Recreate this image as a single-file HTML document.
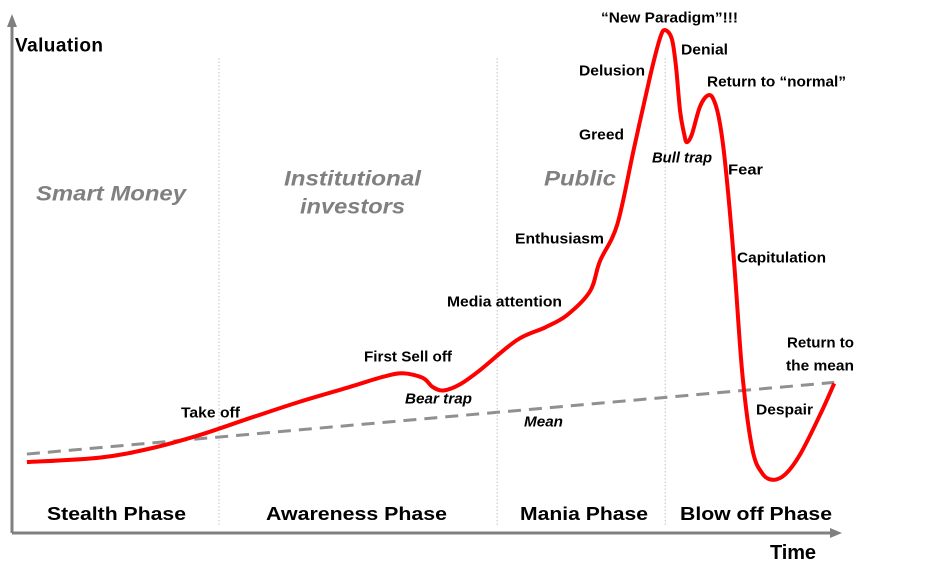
<!DOCTYPE html>
<html><head><meta charset="utf-8"><style>
html,body{margin:0;padding:0;background:#fff;}
svg{display:block;}
text{font-family:"Liberation Sans",Arial,sans-serif;dominant-baseline:central;}
.ann{font-size:15px;font-weight:bold;fill:#000;}
.ph{font-size:18px;font-weight:bold;fill:#000;}
.grp{font-size:21px;font-weight:bold;font-style:italic;fill:#808080;}
</style></head><body>
<svg id="chart" width="934" height="586" viewBox="0 0 934 586">
<g id="dividers"></g>
<line x1="12" y1="533" x2="12" y2="24" stroke="#808080" stroke-width="3"/>
<polygon points="12,14 7,27 17,27" fill="#808080"/>
<line x1="12" y1="533" x2="832" y2="533" stroke="#808080" stroke-width="3"/>
<polygon points="842,533 830,528 830,538" fill="#808080"/>
<text x="15" y="46" font-size="19" font-weight="bold" textLength="88">Valuation</text>
<text x="770" y="553" font-size="20" font-weight="bold" textLength="46">Time</text>
<g id="meanG"></g>
<g id="curveG"></g>
<g id="labels"></g>
</svg>
<script>
// time (0..100) and valuation (0..100)
const curveT = [1.8,10.6,16.7,22.7,28.7,34.8,40.8,44.8,47.2,49.6,50.8,52.1,54.1,56.5,61.0,64.4,67.0,69.8,71.0,73.1,75.1,77.1,78.3,78.9,79.7,80.2,80.7,81.2,81.5,82.1,83.1,84.1,84.8,85.5,86.2,87.2,88.2,89.4,90.6,91.9,93.4,95.2,97.6,99.3];
const curveV = [14.2,15.1,16.9,19.6,22.9,26.2,29.1,31.1,31.8,30.9,29.1,28.4,29.6,32.4,38.4,40.9,43.3,48.0,54.0,61.3,76.2,90.9,98.4,99.8,98.0,92.4,83.6,79.1,77.6,79.1,84.7,86.9,85.8,81.3,72.4,54.0,31.8,16.9,12.0,10.7,11.8,15.8,23.6,29.8];
const meanT = [1.8, 99.3];
const meanV = [15.8, 30.0];
const dividerT = [25.0, 58.6, 78.9];
const phaseNames = ["Stealth Phase","Awareness Phase","Mania Phase","Blow off Phase"];

const xS = t => 12 + t * 8.28;
const yS = v => 533.8 - v * 5.047;
const NS = "http://www.w3.org/2000/svg";

function smoothPath(xs, ys){
  let d = "M" + xs[0] + "," + ys[0];
  for (let i = 0; i < xs.length - 1; i++){
    const x0 = xs[Math.max(i-1,0)], y0 = ys[Math.max(i-1,0)];
    const x1 = xs[i], y1 = ys[i], x2 = xs[i+1], y2 = ys[i+1];
    const x3 = xs[Math.min(i+2,xs.length-1)], y3 = ys[Math.min(i+2,xs.length-1)];
    const c1x = x1 + (x2 - x0)/6, c1y = y1 + (y2 - y0)/6;
    const c2x = x2 - (x3 - x1)/6, c2y = y2 - (y3 - y1)/6;
    d += " C" + c1x.toFixed(1) + "," + c1y.toFixed(1) + " " + c2x.toFixed(1) + "," + c2y.toFixed(1) + " " + x2.toFixed(1) + "," + y2.toFixed(1);
  }
  return d;
}

dividerT.forEach(t => {
  const l = document.createElementNS(NS, "line");
  l.setAttribute("x1", xS(t)); l.setAttribute("x2", xS(t));
  l.setAttribute("y1", 58); l.setAttribute("y2", 525);
  l.setAttribute("stroke", "#c8ccd4"); l.setAttribute("stroke-width", "1.2"); l.setAttribute("stroke-dasharray", "1.5 2");
  
  
  document.getElementById("dividers").appendChild(l);
});

const mean = document.createElementNS(NS, "line");
mean.setAttribute("x1", xS(meanT[0])); mean.setAttribute("y1", yS(meanV[0]));
mean.setAttribute("x2", xS(meanT[1])); mean.setAttribute("y2", yS(meanV[1]));
mean.setAttribute("stroke", "#909090"); mean.setAttribute("stroke-width", "3"); mean.setAttribute("stroke-dasharray", "13 8");


document.getElementById("meanG").appendChild(mean);

const path = document.createElementNS(NS, "path");
path.setAttribute("d", smoothPath(curveT.map(xS), curveV.map(yS)));
path.setAttribute("fill", "none"); path.setAttribute("stroke", "#ff0000"); path.setAttribute("stroke-width", "4");
path.setAttribute("stroke-linejoin", "round");


document.getElementById("curveG").appendChild(path);

const labels = [
  ["Smart Money",36,194,150,"grp","group-smart-money"],
  ["Institutional",284,179,137,"grp","group-institutional"],
  ["investors",300,207,105,"grp","group-investors"],
  ["Public",544,179,72,"grp","group-public"],
  [phaseNames[0],47,514,139,"ph","phase-stealth"],
  [phaseNames[1],266,514,181,"ph","phase-awareness"],
  [phaseNames[2],520,514,128,"ph","phase-mania"],
  [phaseNames[3],680,514,152,"ph","phase-blow-off"],
  ["Take off",181,413,59,"ann","label-take-off"],
  ["First Sell off",364,357,88,"ann","label-first-sell-off"],
  ["Bear trap",405,399,67,"ann it","label-bear-trap"],
  ["Mean",524,422,39,"ann it","label-mean"],
  ["Media attention",447,302,115,"ann","label-media-attention"],
  ["Enthusiasm",515,239,89,"ann","label-enthusiasm"],
  ["Greed",579,135,45,"ann","label-greed"],
  ["Delusion",579,71,66,"ann","label-delusion"],
  ["\u201cNew Paradigm\u201d!!!",601,18,137,"ann","label-new-paradigm"],
  ["Denial",681,50,47,"ann","label-denial"],
  ["Return to \u201cnormal\u201d",707,82,139,"ann","label-return-normal"],
  ["Bull trap",652,158,60,"ann it","label-bull-trap"],
  ["Fear",728,170,35,"ann","label-fear"],
  ["Capitulation",737,258,89,"ann","label-capitulation"],
  ["Return to",787,343,67,"ann","label-return-to"],
  ["the mean",786,366,68,"ann","label-the-mean"],
  ["Despair",756,410,57,"ann","label-despair"]
];
labels.forEach(a => {
  const t = document.createElementNS(NS, "text");
  t.textContent = a[0];
  t.setAttribute("x", a[1]); t.setAttribute("y", a[2]);
  t.setAttribute("textLength", a[3]); t.setAttribute("lengthAdjust", "spacingAndGlyphs");
  const cls = a[4].split(" ");
  t.setAttribute("class", cls[0]);
  if (cls[1]) t.setAttribute("font-style", "italic");
  
  
  document.getElementById("labels").appendChild(t);
});
</script>
</body></html>
